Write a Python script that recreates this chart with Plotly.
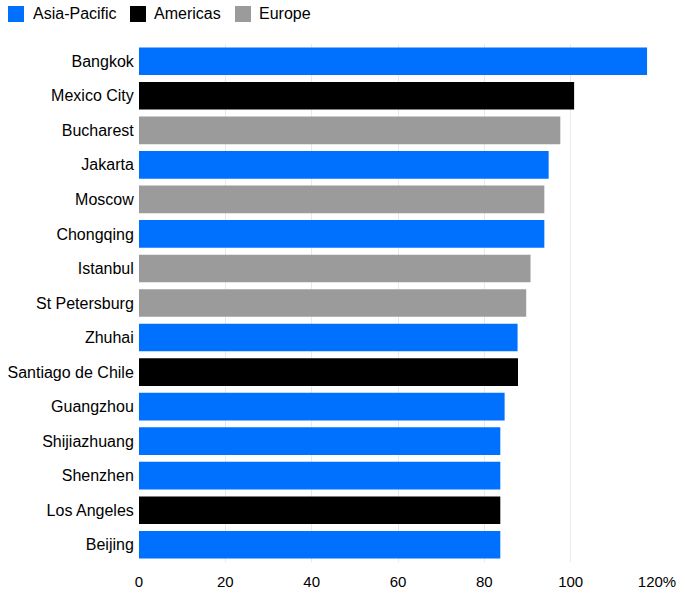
import plotly.graph_objects as go

cities = ["Bangkok", "Mexico City", "Bucharest", "Jakarta", "Moscow", "Chongqing",
          "Istanbul", "St Petersburg", "Zhuhai", "Santiago de Chile", "Guangzhou",
          "Shijiazhuang", "Shenzhen", "Los Angeles", "Beijing"]
values = [117.7, 100.8, 97.6, 94.9, 93.9, 93.9, 90.7, 89.7, 87.7, 87.8, 84.7,
          83.7, 83.7, 83.7, 83.7]
regions = ["Asia-Pacific", "Americas", "Europe", "Asia-Pacific", "Europe", "Asia-Pacific",
           "Europe", "Europe", "Asia-Pacific", "Americas", "Asia-Pacific",
           "Asia-Pacific", "Asia-Pacific", "Americas", "Asia-Pacific"]
region_order = ["Asia-Pacific", "Americas", "Europe"]
region_colors = {"Asia-Pacific": "#0070ff", "Americas": "#000000", "Europe": "#9b9b9b"}
tick_vals = [0, 20, 40, 60, 80, 100, 120]
tick_text = ["0", "20", "40", "60", "80", "100", "120%"]

W, H = 685, 596
ML, MR, MT, MB = 139, 28, 44, 34
PW, PH = W - ML - MR, H - MT - MB

def px(xp):
    return (xp - ML) / PW

def py(yp):
    return (H - MB - yp) / PH

fig = go.Figure()
for r in region_order:
    ys = [c for c, g in zip(cities, regions) if g == r]
    xs = [v for v, g in zip(values, regions) if g == r]
    fig.add_trace(go.Bar(x=xs, y=ys, orientation="h", name=r, showlegend=False,
                         marker=dict(color=region_colors[r], line=dict(width=0))))

# manual legend
legend_pos = [(8, 31), (130, 152), (235, 257)]
shapes = []
annotations = []
for r, (sx, tx) in zip(region_order, legend_pos):
    shapes.append(dict(type="rect", xref="paper", yref="paper",
                       x0=px(sx), x1=px(sx + 16), y0=py(22), y1=py(6),
                       fillcolor=region_colors[r], line=dict(width=0), layer="above"))
    annotations.append(dict(text=r, xref="paper", yref="paper", x=px(tx), y=py(14),
                            xanchor="left", yanchor="middle", showarrow=False,
                            font=dict(size=16, color="#000")))

fig.update_layout(
    width=W, height=H,
    margin=dict(l=ML, r=MR, t=MT, b=MB, autoexpand=False),
    barmode="overlay", bargap=0.2,
    plot_bgcolor="white", paper_bgcolor="white",
    font=dict(family="Liberation Sans, Arial, sans-serif", size=15, color="#000"),
    showlegend=False,
    shapes=shapes, annotations=annotations,
    xaxis=dict(range=[0, 120], tickvals=tick_vals, ticktext=tick_text,
               showgrid=True, gridcolor="#e9e9e9", gridwidth=1, zeroline=False,
               ticks="outside", ticklen=6, tickcolor="rgba(0,0,0,0)",
               tickfont=dict(size=15), automargin=False,
               showline=False, fixedrange=True),
    yaxis=dict(categoryorder="array", categoryarray=cities, autorange="reversed",
               showgrid=False, ticks="outside", ticklen=1, tickcolor="rgba(0,0,0,0)",
               tickfont=dict(size=16), automargin=False,
               showline=False, fixedrange=True),
)

fig.write_html("out.html", config={"displayModeBar": False},
               post_script="document.body.style.margin='0';")
